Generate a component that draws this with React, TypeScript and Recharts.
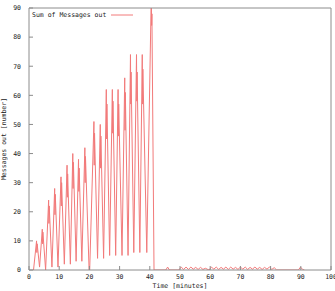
import React from 'react';
import { LineChart, Line, XAxis, YAxis, Label } from 'recharts';

// trace of the "Sum of Messages out" counter
const minutes = [
  1.5, 2.5, 2.6, 2.7, 3.5,
  4.4, 4.5, 4.6, 5.5,
  6.5, 6.6, 6.7, 7.6,
  8.5, 8.6, 8.7, 9.6,
  10.6, 10.7, 10.8, 11.7,
  12.6, 12.7, 12.8, 13.7,
  14.5, 14.6, 14.7, 15.6,
  16.4, 16.5, 16.6, 17.5,
  18.5, 18.6, 18.7, 19.9, 20.1,
  21.5, 21.6, 21.7, 22.7,
  23.6, 23.7, 23.8, 24.7,
  25.6, 25.7, 25.8, 26.7,
  27.6, 27.7, 27.8, 28.7,
  29.5, 29.6, 29.7, 30.8,
  31.7, 31.8, 31.9, 32.8,
  33.6, 33.7, 33.8, 34.7,
  35.6, 35.7, 35.8, 36.7,
  37.5, 37.6, 37.7, 39.0,
  40.5, 40.6, 40.7, 41.4,
  45.3, 45.9, 46.5,
  49.6, 50.4, 51.2, 52.0, 52.8, 53.6, 54.4, 55.2, 56.0, 56.8, 57.6, 58.4,
  59.6, 60.4, 61.2, 62.0, 62.8, 63.6, 64.4, 65.2, 66.0, 66.8, 67.6, 68.4,
  69.2, 70.0, 70.8, 71.6, 72.4, 73.2, 74.0, 74.8, 75.6, 76.4, 77.2, 78.0,
  78.8, 79.6, 80.4, 81.2, 82.0,
  89.2, 89.9, 90.6, 91.2,
];
const messages = [
  0, 10, 6, 9, 1,
  14, 9, 13, 0,
  24, 16, 22, 1,
  28, 19, 26, 1,
  32, 22, 30, 2,
  36, 25, 33, 2,
  40, 28, 37, 3,
  38, 27, 35, 3,
  42, 30, 39, 0, 0,
  51, 36, 47, 4,
  50, 35, 46, 4,
  62, 45, 57, 5,
  62, 47, 58, 5,
  62, 46, 57, 5,
  66, 48, 61, 5,
  74, 57, 68, 6,
  74, 58, 68, 6,
  74, 57, 69, 6,
  95, 84, 88, 0,
  0, 1, 0,
  0, 1, 0.2, 1, 0.2, 1, 0.3, 0.9, 0.2, 0.9, 0.2, 0.6,
  0, 1, 0.3, 1, 0.2, 0.9, 0.3, 1, 0.2, 1, 0.3, 0.9,
  0.2, 1, 0.3, 1, 0.2, 0.9, 0.3, 1, 0.3, 0.9, 0.2, 0.9,
  0.3, 1, 0.2, 0.8, 0,
  0, 1, 0.2, 0,
];
const xTicks = [0, 10, 20, 30, 40, 50, 60, 70, 80, 90, 100];
const yTicks = [0, 10, 20, 30, 40, 50, 60, 70, 80, 90];

const data = minutes.map((t, i) => ({ t, v: messages[i] }));

const FONT = '"DejaVu Sans Mono", monospace';
const AXIS = '#8c8c8c';
const RED = '#f27a7a';

export default function App() {
  const tickStyle = { fontSize: 6.5, fontFamily: FONT, fill: '#222' };
  return (
    <div style={{ position: 'absolute', left: 0, top: 0, width: 335, height: 291, background: '#fff' }}>
      <LineChart width={335} height={291} data={data} margin={{ top: 0, right: 0, bottom: 0, left: 0 }}>
        <XAxis
          dataKey="t"
          type="number"
          domain={[0, 100]}
          ticks={xTicks}
          height={21}
          tickSize={-4}
          tickMargin={8}
          tick={tickStyle}
          stroke={AXIS}
          interval={0}
          allowDataOverflow
        >
          <Label value="Time [minutes]" position="insideBottom" offset={3} style={{ fontSize: 6.5, fontFamily: FONT, fill: '#222' }} />
        </XAxis>
        <XAxis
          xAxisId="top"
          orientation="top"
          type="number"
          domain={[0, 100]}
          ticks={xTicks}
          height={8}
          tickSize={-4}
          tick={false}
          stroke={AXIS}
        />
        <YAxis
          type="number"
          domain={[0, 90]}
          ticks={yTicks}
          width={29}
          tickSize={-4}
          tickMargin={12}
          tick={tickStyle}
          stroke={AXIS}
          interval={0}
          allowDataOverflow
        >
          <Label
            value="Messages out [number]"
            angle={-90}
            position="insideLeft"
            offset={4}
            style={{ fontSize: 6.5, fontFamily: FONT, fill: '#222', textAnchor: 'middle' }}
          />
        </YAxis>
        <YAxis
          yAxisId="right"
          orientation="right"
          type="number"
          domain={[0, 90]}
          ticks={yTicks}
          width={4}
          tickSize={-4}
          tick={false}
          stroke={AXIS}
        />
        <Line
          type="linear"
          dataKey="v"
          stroke={RED}
          strokeWidth={1}
          dot={false}
          isAnimationActive={false}
        />
      </LineChart>
      <div
        style={{
          position: 'absolute',
          left: 32,
          top: 11,
          display: 'flex',
          alignItems: 'center',
          fontFamily: FONT,
          fontSize: 6.5,
          color: '#222',
          lineHeight: '8px',
        }}
      >
        <span>Sum of Messages out</span>
        <svg width={27} height={8} style={{ display: 'block' }}>
          <line x1={5} y1={4} x2={27} y2={4} stroke={RED} strokeWidth={1} />
        </svg>
      </div>
    </div>
  );
}
